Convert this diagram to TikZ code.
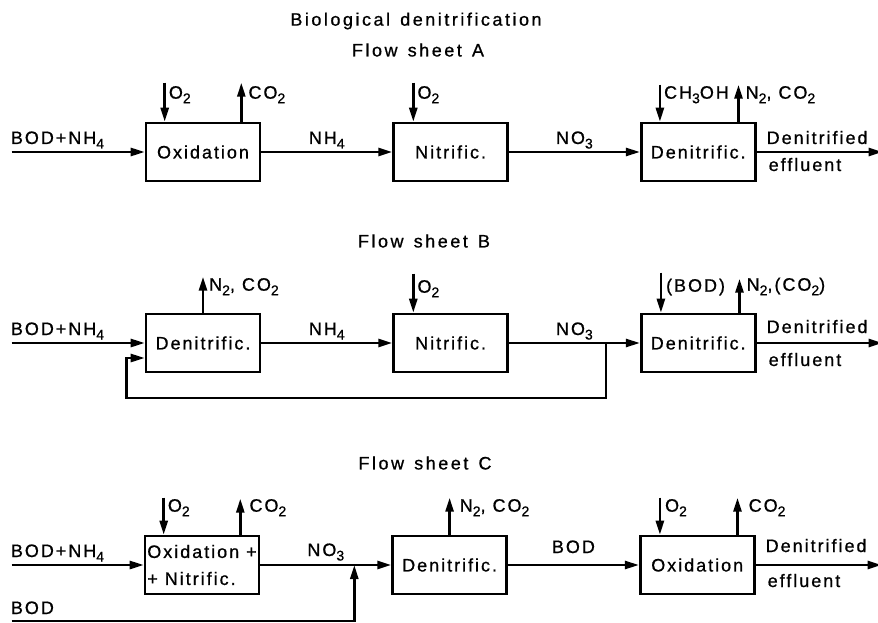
\documentclass[tikz,border=0pt]{standalone}
\usepackage{fontspec}
\setmainfont{Liberation Sans}[LetterSpace=11,Ligatures=NoCommon,FakeBold=0.8]
\newfontfamily\headfont{Liberation Sans}[LetterSpace=14,WordSpace=1.35,Ligatures=NoCommon,FakeBold=0.8]
\usetikzlibrary{arrows.meta,positioning,calc}
\newcommand{\chsub}[1]{\raisebox{-4.5pt}{\fontsize{14}{14}\selectfont #1}}
\tikzset{
  flow/.style={-{Triangle[length=14pt,width=8pt]}, line width=2.6pt},
  plant/.style={draw, line width=2.6pt, minimum width=114pt, minimum height=58pt,
                inner sep=2pt, align=left, font=\fontsize{18}{21}\selectfont},
  tag/.style={inner sep=0pt, font=\fontsize{18}{21}\selectfont},
  head/.style={inner sep=0pt, font=\headfont\fontsize{18}{21}\selectfont},
}

\begin{document}
\begin{tikzpicture}[x=1pt, y=-1pt]
  \useasboundingbox (0,0) rectangle (878,623);
  \node[head] (title) at (416,21) {Biological denitrification};

  % Flow sheet A
  \node[head] (sheetA) at (418,50) {Flow sheet A};
  \node[plant] (oxA) at (203,152) {Oxidation};
  \node[plant,right=131pt of oxA] (niA) {Nitrific.};
  \node[plant,right=131pt of niA] (dnA) {Denitrific.};
  \coordinate (inA) at ($(oxA.west)+(-133,0)$);
  \coordinate (outA) at ($(dnA.east)+(126,0)$);
  \draw[flow] (inA) -- (oxA.west);
  \draw[flow] (oxA.east) -- (niA.west);
  \draw[flow] (niA.east) -- (dnA.west);
  \draw[flow] (dnA.east) -- (outA);
  \node[tag,anchor=base west] (inAl) at ($(inA)+(-1,-8)$) {BOD+NH\chsub{4}};
  \node[tag,anchor=base] (nh4A) at ($(oxA.east)!0.5!(niA.west)+(0,-8)$) {NH\chsub{4}};
  \node[tag,anchor=base] (no3A) at ($(niA.east)!0.5!(dnA.west)+(0,-8)$) {NO\chsub{3}};
  \node[tag,anchor=base west] (effA1) at ($(dnA.east)+(10,-8)$) {Denitrified};
  \node[tag,anchor=base west] (effA2) at ($(dnA.east)+(12,19)$) {effluent};
  \coordinate (o2Aox) at ($(oxA.north west)+(20,-39)$);
  \coordinate (co2Aox) at ($(oxA.north east)+(-20,-39)$);
  \coordinate (o2Ani) at ($(niA.north west)+(21,-39)$);
  \coordinate (meAdn) at ($(dnA.north west)+(20,-37)$);
  \coordinate (n2Adn) at ($(dnA.north east)+(-18,-37)$);
  \draw[flow] (o2Aox) -- (o2Aox |- oxA.north);
  \draw[flow] (co2Aox |- oxA.north) -- (co2Aox);
  \draw[flow] (o2Ani) -- (o2Ani |- niA.north);
  \draw[flow] (meAdn) -- (meAdn |- dnA.north);
  \draw[flow] (n2Adn |- dnA.north) -- (n2Adn);
  \node[tag,anchor=base west] (o2Aoxl) at ($(o2Aox)+(4,16)$) {O\chsub{2}};
  \node[tag,anchor=base west] (co2Aoxl) at ($(co2Aox)+(7,16)$) {CO\chsub{2}};
  \node[tag,anchor=base west] (o2Anil) at ($(o2Ani)+(4,16)$) {O\chsub{2}};
  \node[tag,anchor=base west] (meAdnl) at ($(meAdn)+(4,14)$) {CH\chsub{3}OH};
  \node[tag,anchor=base west] (n2Adnl) at ($(n2Adn)+(7,14)$) {N\chsub{2}, CO\chsub{2}};

  % Flow sheet B
  \node[head] (sheetB) at (424,241) {Flow sheet B};
  \node[plant] (dnB1) at (203,343) {Denitrific.};
  \node[plant,right=131pt of dnB1] (niB) {Nitrific.};
  \node[plant,right=131pt of niB] (dnB3) {Denitrific.};
  \coordinate (inB) at ($(dnB1.west)+(-133,0)$);
  \coordinate (outB) at ($(dnB3.east)+(126,0)$);
  \coordinate (tapB) at ($(dnB3.west)+(-34,0)$);
  \coordinate (retB) at ($(dnB1.west)+(-18,55)$);
  \draw[flow] (inB) -- (dnB1.west);
  \draw[flow] (dnB1.east) -- (niB.west);
  \draw[flow] (niB.east) -- (dnB3.west);
  \draw[flow] (dnB3.east) -- (outB);
  \draw[flow] (tapB) |- (retB) |- ($(dnB1.west)+(0,15)$);
  \node[tag,anchor=base west] (inBl) at ($(inB)+(-1,-8)$) {BOD+NH\chsub{4}};
  \node[tag,anchor=base] (nh4B) at ($(dnB1.east)!0.5!(niB.west)+(0,-8)$) {NH\chsub{4}};
  \node[tag,anchor=base] (no3B) at ($(niB.east)!0.5!(dnB3.west)+(0,-8)$) {NO\chsub{3}};
  \node[tag,anchor=base west] (effB1) at ($(dnB3.east)+(10,-10)$) {Denitrified};
  \node[tag,anchor=base west] (effB2) at ($(dnB3.east)+(12,23)$) {effluent};
  \coordinate (n2Bdn) at ($(dnB1.north)+(0,-36)$);
  \coordinate (o2Bni) at ($(niB.north west)+(21,-39)$);
  \coordinate (bodBdn) at ($(dnB3.north west)+(21,-40)$);
  \coordinate (n2Bdn3) at ($(dnB3.north east)+(-17,-34)$);
  \draw[flow] (n2Bdn |- dnB1.north) -- (n2Bdn);
  \draw[flow] (o2Bni) -- (o2Bni |- niB.north);
  \draw[flow] (bodBdn) -- (bodBdn |- dnB3.north);
  \draw[flow] (n2Bdn3 |- dnB3.north) -- (n2Bdn3);
  \node[tag,anchor=base west] (n2Bdnl) at ($(n2Bdn)+(6,14)$) {N\chsub{2}, CO\chsub{2}};
  \node[tag,anchor=base west] (o2Bnil) at ($(o2Bni)+(4,19)$) {O\chsub{2}};
  \node[tag,anchor=base west] (bodBdnl) at ($(bodBdn)+(5,19)$) {(BOD)};
  \node[tag,anchor=base west] (n2Bdn3l) at ($(n2Bdn3)+(7,12)$) {N\chsub{2},(CO\chsub{2})};

  % Flow sheet C
  \node[head] (sheetC) at (425,463) {Flow sheet C};
  \node[plant,font=\fontsize{18}{27}\selectfont] (oxC) at (202,565) {Oxidation +\\+ Nitrific.};
  \node[plant,right=131pt of oxC] (dnC) {Denitrific.};
  \node[plant,right=131pt of dnC] (ox2C) {Oxidation};
  \coordinate (inC) at ($(oxC.west)+(-132,0)$);
  \coordinate (outC) at ($(ox2C.east)+(126,0)$);
  \coordinate (mixC) at ($(oxC.east)+(94,0)$);
  \coordinate (bodC) at ($(oxC.west)+(-132,56)$);
  \draw[flow] (inC) -- (oxC.west);
  \draw[flow] (oxC.east) -- (dnC.west);
  \draw[flow] (dnC.east) -- (ox2C.west);
  \draw[flow] (ox2C.east) -- (outC);
  \draw[flow] (bodC) -| (mixC);
  \node[tag,anchor=base west] (inCl) at ($(inC)+(-1,-8)$) {BOD+NH\chsub{4}};
  \node[tag,anchor=base west] (bodCl) at ($(bodC)+(-1,-7)$) {BOD};
  \node[tag,anchor=base] (no3C) at ($(oxC.east)!0.5!(dnC.west)+(0,-9)$) {NO\chsub{3}};
  \node[tag,anchor=base] (bodC2) at ($(dnC.east)!0.5!(ox2C.west)+(0,-12)$) {BOD};
  \node[tag,anchor=base west] (effC1) at ($(ox2C.east)+(10,-13)$) {Denitrified};
  \node[tag,anchor=base west] (effC2) at ($(ox2C.east)+(12,22)$) {effluent};
  \coordinate (o2Cox) at ($(oxC.north west)+(20,-37)$);
  \coordinate (co2Cox) at ($(oxC.north east)+(-20,-36)$);
  \coordinate (n2Cdn) at ($(dnC.north)+(0,-37)$);
  \coordinate (o2Cox2) at ($(ox2C.north west)+(21,-37)$);
  \coordinate (co2Cox2) at ($(ox2C.north east)+(-18,-37)$);
  \draw[flow] (o2Cox) -- (o2Cox |- oxC.north);
  \draw[flow] (co2Cox |- oxC.north) -- (co2Cox);
  \draw[flow] (n2Cdn |- dnC.north) -- (n2Cdn);
  \draw[flow] (o2Cox2) -- (o2Cox2 |- ox2C.north);
  \draw[flow] (co2Cox2 |- ox2C.north) -- (co2Cox2);
  \node[tag,anchor=base west] (o2Coxl) at ($(o2Cox)+(4,14)$) {O\chsub{2}};
  \node[tag,anchor=base west] (co2Coxl) at ($(co2Cox)+(9,13)$) {CO\chsub{2}};
  \node[tag,anchor=base west] (n2Cdnl) at ($(n2Cdn)+(10,14)$) {N\chsub{2}, CO\chsub{2}};
  \node[tag,anchor=base west] (o2Cox2l) at ($(o2Cox2)+(5,14)$) {O\chsub{2}};
  \node[tag,anchor=base west] (co2Cox2l) at ($(co2Cox2)+(11,14)$) {CO\chsub{2}};
\end{tikzpicture}
\end{document}
